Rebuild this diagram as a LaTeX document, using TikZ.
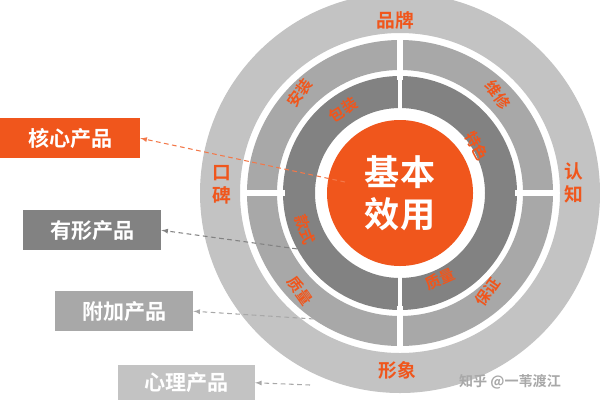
\documentclass[tikz,border=0pt]{standalone}
\usepackage{fontspec}
\newfontfamily\cjk{Noto Sans CJK SC Bold}
\begin{document}
\begin{tikzpicture}[x=0.03cm,y=-0.03cm,font=\cjk,
  lab/.style={text=white,font=\cjk\fontsize{18}{20}\selectfont,inner sep=0pt,minimum height=1.2cm,anchor=north west},
  ring/.style={text=ringorange,font=\cjk\fontsize{13}{14}\selectfont,inner sep=0pt},
  conn/.style={dashed,-latex,line width=0.9pt,dash pattern=on 4pt off 3pt}]
\definecolor{ringorange}{HTML}{F0561C}
\definecolor{g1}{HTML}{C3C3C3}
\definecolor{g2}{HTML}{A8A8A8}
\definecolor{g3}{HTML}{828282}
\useasboundingbox (0,0) rectangle (600,415);
\fill[white] (0,0) rectangle (600,415);
\coordinate (c) at (400,193);
\fill[g1,even odd rule] (c) circle[radius=200] (c) circle[radius=160];
\fill[g2,even odd rule] (c) circle[radius=153] (c) circle[radius=123];
\fill[g3,even odd rule] (c) circle[radius=117] (c) circle[radius=85];
\draw[white,line width=4.5pt] (400,36) -- (400,80) (400,306) -- (400,350) (245,193) -- (285,193) (515,193) -- (555,193);
\draw[white,line width=3.5pt] (400,72) -- (400,110) (400,276) -- (400,314);
\node[circle,fill=ringorange,minimum size=4.38cm,inner sep=0pt,text=white,font=\cjk\fontsize{30}{36}\selectfont,align=center] (core) at (c) {基本\\效用};
% outer labels
\node[ring,font=\cjk\fontsize{16}{18}\selectfont] (pp) at (395,20) {品牌};
\node[ring,font=\cjk\fontsize{16}{18}\selectfont] (xx) at (397,370) {形象};
\node[ring,font=\cjk\fontsize{16}{20}\selectfont,align=center] (kb) at (222,185) {口\\碑};
\node[ring,font=\cjk\fontsize{16}{20}\selectfont,align=center] (rz) at (574,183) {认\\知};
% middle labels
\node[ring,rotate=55] (az) at (300,93) {安装};
\node[ring,rotate=-55] (wx) at (498,95) {维修};
\node[ring,rotate=55] (bz) at (488,292) {保证};
\node[ring,rotate=-55] (zl) at (300,291) {质量};
% inner labels
\node[ring,rotate=33] (bzh) at (343,110) {包装};
\node[ring,rotate=-62] (ts) at (477,146) {特色};
\node[ring,rotate=-70] (ks) at (305,230) {款式};
\node[ring,rotate=24] (zl2) at (440,279) {质量};
% boxes
\node[lab,fill=ringorange,minimum width=4.2cm] (b1) at (0,118) {核心产品};
\node[lab,fill=g3,minimum width=4.14cm] (b2) at (23,210) {有形产品};
\node[lab,fill=g2,minimum width=4.14cm] (b3) at (55,291) {附加产品};
\node[lab,fill=g1,minimum width=4.1cm,minimum height=1.05cm] (b4) at (118,365) {心理产品};
\coordinate (e1) at (345,182);
\coordinate (e2) at (305,250);
\coordinate (e3) at (330,320);
\coordinate (e4) at (310,385);
\draw[conn,draw=ringorange!80!white] (e1) -- (b1.east);
\draw[conn,draw=g3] (e2) -- (b2.east);
\draw[conn,draw=g2] (e3) -- (b3.east);
\draw[conn,draw=g2] (e4) -- (b4.east);
\node[text=g2,font=\cjk\fontsize{12}{14}\selectfont,anchor=west] (wm) at (455,382) {知乎 @一苇渡江};
\end{tikzpicture}
\end{document}
